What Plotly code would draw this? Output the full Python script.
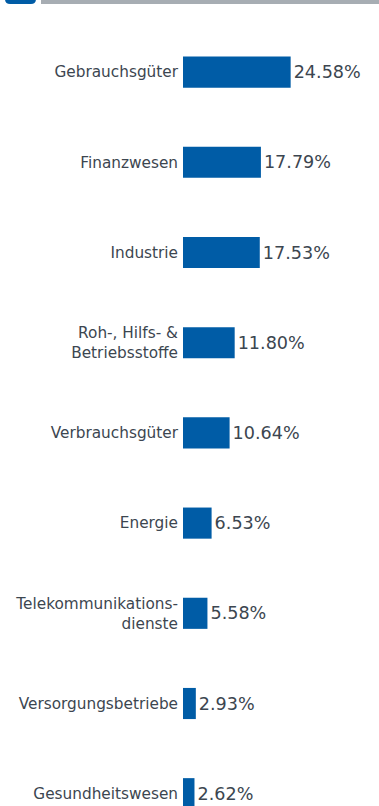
import plotly.graph_objects as go

# Sector weights (%)
sectors = [
    "Gebrauchsgüter",
    "Finanzwesen",
    "Industrie",
    "Roh-, Hilfs- &<br>Betriebsstoffe",
    "Verbrauchsgüter",
    "Energie",
    "Telekommunikations-<br>dienste",
    "Versorgungsbetriebe",
    "Gesundheitswesen",
]
weights = [24.58, 17.79, 17.53, 11.80, 10.64, 6.53, 5.58, 2.93, 2.62]
labels = [f"{w:.2f}%" for w in weights]

W, H = 379, 806
ML, MR, MT, MB = 183, 0, 27, 0
BLUE = "#005ca6"
GREY = "#a7adb3"
TEXT = "#3c4650"

pw = W - ML - MR
ph = H - MT - MB


def px_x(px):
    return (px - ML) / pw


def px_y(py):
    return 1 - (py - MT) / ph


fig = go.Figure(
    go.Bar(
        x=weights,
        y=sectors,
        orientation="h",
        marker=dict(color=BLUE, line=dict(width=0)),
        text=labels,
        textposition="outside",
        textfont=dict(size=17.6, color=TEXT, family="DejaVu Sans"),
        constraintext="none",
        cliponaxis=False,
        hoverinfo="skip",
    )
)

# Header strip: rounded blue tab and grey rule
x0, x1 = px_x(5), px_x(36)
yt, yb = px_y(-6), px_y(4)
r = 5
fig.add_shape(
    type="path",
    xref="paper",
    yref="paper",
    path=(
        f"M {x0} {yt} L {x1} {yt} L {x1} {px_y(4 - r)} "
        f"Q {x1} {yb} {px_x(36 - r)} {yb} L {px_x(5 + r)} {yb} "
        f"Q {x0} {yb} {x0} {px_y(4 - r)} Z"
    ),
    fillcolor=BLUE,
    line=dict(width=0),
)
fig.add_shape(
    type="rect",
    xref="paper",
    yref="paper",
    x0=px_x(41), x1=px_x(380), y0=px_y(0), y1=px_y(4),
    fillcolor=GREY,
    line=dict(width=0),
)

fig.update_layout(
    width=W,
    height=H,
    margin=dict(l=ML, r=MR, t=MT, b=MB),
    paper_bgcolor="white",
    plot_bgcolor="white",
    bargap=0.655,
    showlegend=False,
    font=dict(family="DejaVu Sans", color=TEXT, size=15),
)
fig.update_xaxes(
    range=[0, pw / 4.38],
    visible=False,
    fixedrange=True,
)
fig.update_yaxes(
    range=[(H - MT) / 90.2 - 0.5, -0.5],
    showgrid=False,
    zeroline=False,
    showline=False,
    ticks="",
    ticklabelstandoff=4,
    tickfont=dict(size=15.3, color=TEXT, family="DejaVu Sans"),
    fixedrange=True,
)

fig.write_html("out.html", config={"displayModeBar": False})
